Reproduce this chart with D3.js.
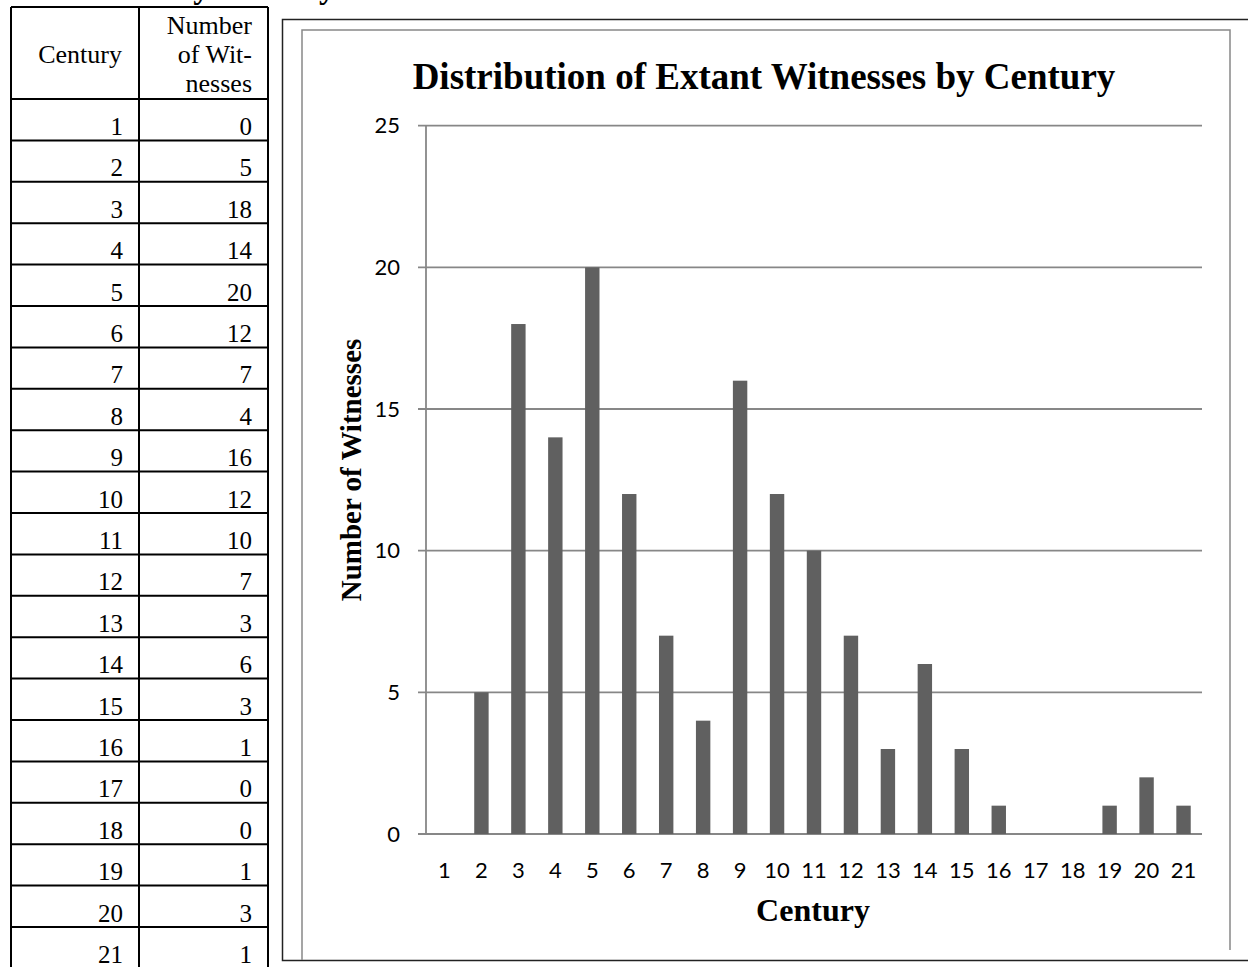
<!DOCTYPE html>
<html>
<head>
<meta charset="utf-8">
<script src="https://cdn.jsdelivr.net/npm/d3@7"></script>
<style>
  html, body { margin: 0; padding: 0; background: #fff; }
  svg { display: block; }
</style>
</head>
<body>
<svg id="chart" width="1248" height="967"></svg>
<script>
// ---- data ----
const centuries = [1,2,3,4,5,6,7,8,9,10,11,12,13,14,15,16,17,18,19,20,21];
const tableCounts = [0,5,18,14,20,12,7,4,16,12,10,7,3,6,3,1,0,0,1,3,1];
const chartCounts = [0,5,18,14,20,12,7,4,16,12,10,7,3,6,3,1,0,0,1,2,1];
const yTicks = [0,5,10,15,20,25];
const tableHeader1 = "Century";
const tableHeader2 = ["Number", "of Wit-", "nesses"];
const chartTitle = "Distribution of Extant Witnesses by Century";
const xTitle = "Century";
const yTitle = "Number of Witnesses";
const pageHeading = "Witnesses by Century";

const svg = d3.select("#chart");
const serif = "'Liberation Serif', 'Times New Roman', serif";
const sans = "Lato, 'Open Sans', sans-serif";

// ---- cropped heading at the very top (only descenders visible) ----
svg.append("text").attr("x", 28).attr("y", -2)
  .attr("font-family", serif).attr("font-weight", "bold").attr("font-size", 33)
  .text(pageHeading);

// ---- table ----
const tLeft = 11, tMid = 139, tRight = 268, tTop = 7, hBottom = 99, rowH = 41.4;
const tg = svg.append("g");
const rowY = d3.scaleLinear().domain([0, 1]).range([hBottom, hBottom + rowH]);
const nRows = centuries.length;
tg.append("line").attr("x1", tLeft).attr("x2", tRight).attr("y1", tTop).attr("y2", tTop);
tg.append("line").attr("x1", tLeft).attr("x2", tRight).attr("y1", hBottom).attr("y2", hBottom);
tg.selectAll("line.row").data(d3.range(1, nRows + 1)).join("line").attr("class", "row")
  .attr("x1", tLeft).attr("x2", tRight).attr("y1", d => rowY(d)).attr("y2", d => rowY(d));
[tLeft, tMid, tRight].forEach(xx => {
  tg.append("line").attr("x1", xx).attr("x2", xx).attr("y1", tTop).attr("y2", rowY(nRows));
});
tg.selectAll("line").attr("stroke", "#000").attr("stroke-width", 2);
const tf = 25;
tg.append("text").attr("x", 122).attr("y", 63).attr("text-anchor", "end")
  .attr("font-family", serif).attr("font-size", tf + 1).text(tableHeader1);
tg.selectAll("text.h2").data(tableHeader2).join("text").attr("class", "h2")
  .attr("x", 252).attr("y", (d, i) => 34 + i * 29).attr("text-anchor", "end")
  .attr("font-family", serif).attr("font-size", tf + 1).text(d => d);
tg.selectAll("text.c").data(centuries).join("text").attr("class", "c")
  .attr("x", 123).attr("y", (d, i) => rowY(i) + 36).attr("text-anchor", "end")
  .attr("font-family", serif).attr("font-size", tf).text(d => d);
tg.selectAll("text.n").data(tableCounts).join("text").attr("class", "n")
  .attr("x", 252).attr("y", (d, i) => rowY(i) + 36).attr("text-anchor", "end")
  .attr("font-family", serif).attr("font-size", tf).text(d => d);

// ---- chart frames ----
svg.append("path").attr("d", "M1248,19.5 H282.5 V960.5 H1248")
  .attr("fill", "none").attr("stroke", "#222").attr("stroke-width", 1.5);
svg.append("path").attr("d", "M302,960 V30 H1230 V950")
  .attr("fill", "none").attr("stroke", "#888").attr("stroke-width", 1.5);

// ---- chart ----
const x0 = 426, x1 = 1202;
const x = d3.scaleBand().domain(centuries).range([x0, x1]).paddingInner(0.61).paddingOuter(0.305);
const y = d3.scaleLinear().domain([0, 25]).range([834, 125.7]);
const grid = "#878787";

svg.append("g").selectAll("line").data(yTicks).join("line")
  .attr("x1", x0 - 8).attr("x2", x1).attr("y1", d => y(d)).attr("y2", d => y(d))
  .attr("stroke", grid).attr("stroke-width", 1.8);
svg.append("line").attr("x1", x0).attr("x2", x0).attr("y1", y(25)).attr("y2", y(0))
  .attr("stroke", grid).attr("stroke-width", 1.8);

const yAxis = svg.append("g").attr("transform", "translate(400,0)")
  .call(d3.axisLeft(y).tickValues(yTicks).tickSize(0).tickPadding(0));
yAxis.select(".domain").remove();
yAxis.selectAll("text").attr("font-family", sans).attr("font-size", 22).attr("fill", "#000");

svg.append("g").selectAll("rect").data(centuries.map((c, i) => ({c, v: chartCounts[i]})))
  .join("rect")
  .attr("x", d => x(d.c)).attr("width", x.bandwidth())
  .attr("y", d => y(d.v)).attr("height", d => y(0) - y(d.v))
  .attr("fill", "#606060");

const xAxis = svg.append("g").attr("transform", "translate(0,834)")
  .call(d3.axisBottom(x).tickSize(0).tickPadding(28));
xAxis.select(".domain").remove();
xAxis.selectAll("text").attr("font-family", sans).attr("font-size", 22).attr("fill", "#000");

svg.append("text").attr("x", 764).attr("y", 89).attr("text-anchor", "middle")
  .attr("font-family", serif).attr("font-weight", "bold").attr("font-size", 37)
  .text(chartTitle);
svg.append("text").attr("x", 813).attr("y", 921).attr("text-anchor", "middle")
  .attr("font-family", serif).attr("font-weight", "bold").attr("font-size", 32)
  .text(xTitle);
svg.append("text").attr("transform", "translate(361,470) rotate(-90)").attr("text-anchor", "middle")
  .attr("font-family", serif).attr("font-weight", "bold").attr("font-size", 29)
  .text(yTitle);
</script>
</body>
</html>
